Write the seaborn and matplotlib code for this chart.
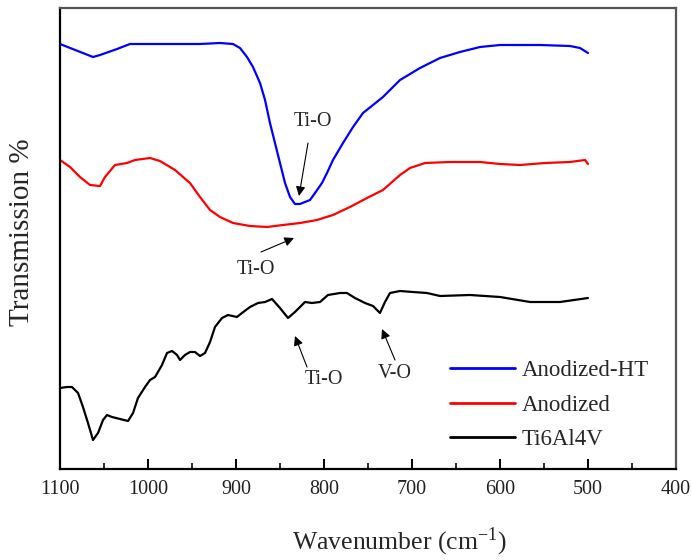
import numpy as np
import pandas as pd
import matplotlib
matplotlib.use("Agg")
import matplotlib.pyplot as plt
import seaborn as sns

# ---- data (wavenumber, transmission in arbitrary offset units) ----
ht_wn = [1100, 1062.5, 1054.5, 1035.2, 1020.5, 963.6, 940.9, 918.2, 903.4, 895.5, 887.5,
         880.7, 872.7, 867.0, 861.4, 855.7, 850.0, 844.3, 838.6, 833.0, 827.3, 821.6,
         815.9, 810.2, 802.3, 796.6, 789.8, 778.4, 767.0, 755.7, 744.3, 733.0, 721.6,
         713.6, 690.9, 668.2, 645.5, 622.7, 600, 554.5, 520.5, 509.1, 500]
ht_tr = [425, 412, 414, 420, 425, 425, 425, 426, 425, 421, 412,
         402, 386, 369, 346, 326, 306, 286, 272, 265, 265, 267,
         269, 276, 286, 296, 309, 326, 342, 356, 364, 372, 382,
         389, 401, 411, 417, 422, 424, 424, 423, 421, 416]

an_wn = [1100, 1088.6, 1077.3, 1065.9, 1054.5, 1048.9, 1037.5, 1023.9, 1014.8, 997.7,
         986.4, 969.3, 952.3, 940.9, 929.5, 918.2, 903.4, 884.1, 864.8, 846.6, 827.3,
         808.0, 789.8, 770.5, 751.1, 733.0, 713.6, 702.3, 685.2, 656.8, 622.7, 600,
         577.3, 548.9, 520.5, 503.4, 500]
an_tr = [309, 302, 292, 284, 283, 292, 304, 306, 309, 311,
         308, 299, 286, 272, 259, 252, 246, 243, 242, 244, 246,
         249, 254, 262, 271, 279, 294, 301, 306, 307, 307, 305,
         304, 306, 307, 309, 305]

ti_wn = [1100, 1092.0, 1086.4, 1079.5, 1073.9, 1068.2, 1062.5, 1056.8, 1051.1, 1046.6,
         1040.9, 1031.8, 1022.7, 1017.0, 1011.4, 1003.4, 997.7, 992.0, 984.1, 978.4,
         972.7, 967.0, 963.6, 958.0, 952.3, 946.6, 940.9, 935.2, 929.5, 923.9, 915.9,
         909.1, 898.9, 893.2, 884.1, 875.0, 867.0, 859.1, 850.0, 840.9, 833.0, 821.6,
         813.6, 804.5, 795.5, 781.8, 773.9, 764.8, 753.4, 744.3, 736.4, 730.7, 725.0,
         713.6, 698.9, 683.0, 668.2, 634.1, 600, 565.9, 531.8, 500]
ti_tr = [81, 82, 82, 76, 62, 46, 29, 36, 49, 54,
         52, 50, 48, 56, 71, 82, 89, 92, 104, 116,
         118, 114, 109, 114, 117, 117, 113, 116, 127, 142, 151,
         154, 152, 156, 162, 166, 167, 170, 161, 151, 157, 167,
         166, 167, 174, 176, 176, 171, 166, 163, 156, 167, 176,
         178, 177, 176, 173, 174, 172, 167, 167, 171]

series_names = ["Anodized-HT", "Anodized", "Ti6Al4V"]
series_colors = ["#0000ff", "#ff0000", "#000000"]
x_ticks = [1100, 1000, 900, 800, 700, 600, 500, 400]

sns.set_theme(style="ticks")
plt.rcParams["font.family"] = ["Liberation Serif", "DejaVu Serif"]
plt.rcParams["mathtext.fontset"] = "stix"

fig = plt.figure(figsize=(6.92, 5.60), dpi=100)
ax = fig.add_axes([60/692, 91/560, 616/692, 461/560])

for wn, tr, name, col in zip([ht_wn, an_wn, ti_wn], [ht_tr, an_tr, ti_tr],
                             series_names, series_colors):
    df = pd.DataFrame({"wn": wn, "tr": tr})
    sns.lineplot(data=df, x="wn", y="tr", color=col, lw=1.6, label=name,
                 ax=ax, sort=False, estimator=None)

ax.set_xlim(1100, 400)
ax.set_ylim(0, 461)
ax.set_xticks(x_ticks)
ax.set_xticks([1050, 950, 850, 750, 650, 550, 450], minor=True)
ax.set_yticks([])
ax.tick_params(axis="x", which="major", direction="in", length=7, width=1.4,
               labelsize=14.5, pad=8, colors="black", labelcolor="#222222")
ax.tick_params(axis="x", which="minor", direction="in", length=4, width=1.4)
ax.set_xticklabels([str(t) for t in x_ticks])

for side in ["left", "bottom"]:
    ax.spines[side].set_color("black")
    ax.spines[side].set_linewidth(1.6)
for side in ["top", "right"]:
    ax.spines[side].set_color("#555555")
    ax.spines[side].set_linewidth(1.6)

ax.set_xlabel(r"Wavenumber (cm$^{\mathregular{-1}}$)", fontsize=18.5, labelpad=19,
              x=(400 - 60) / 616)
ax.set_ylabel("Transmission %", fontsize=21, labelpad=18, y=(469 - 232) / 461)

arrow = dict(arrowstyle="-|>", color="black", lw=0.8, mutation_scale=14,
             shrinkA=0, shrinkB=0)

def px(xp, yp):
    return (1100 - (xp - 60) / 0.88, 469 - yp)

fs_ann = 14.5
ax.annotate("", xy=px(299, 196), xytext=px(308, 143), arrowprops=arrow)
ax.text(*px(313, 121), "Ti-O", fontsize=fs_ann, ha="center", va="center")
ax.annotate("", xy=px(294, 238), xytext=px(261, 252), arrowprops=arrow)
ax.text(*px(256, 270), "Ti-O", fontsize=fs_ann, ha="center", va="center")
ax.annotate("", xy=px(295, 336), xytext=px(307, 367), arrowprops=arrow)
ax.text(*px(324, 380), "Ti-O", fontsize=fs_ann, ha="center", va="center")
ax.annotate("", xy=px(382, 329), xytext=px(395, 360), arrowprops=arrow)
ax.text(*px(395, 373), "V-O", fontsize=fs_ann, ha="center", va="center")

leg = ax.legend(loc="center left", bbox_to_anchor=((450-60)/616, (469-405)/461),
                frameon=False, fontsize=16.5, handlelength=2.84, handletextpad=0.3,
                labelspacing=0.6, borderpad=0, borderaxespad=0)
for line in leg.get_lines():
    line.set_linewidth(2.0)

fig.savefig("out.png", dpi=100)
